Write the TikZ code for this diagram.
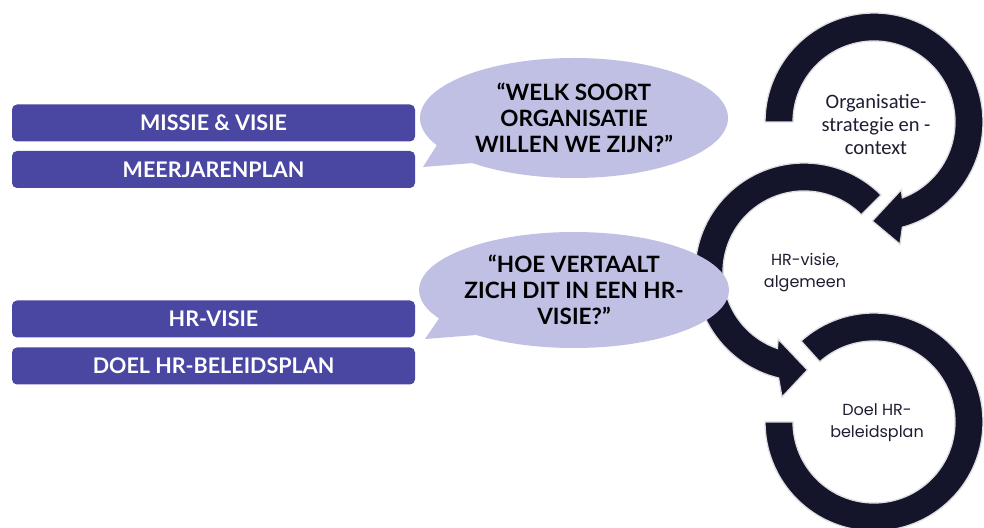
\documentclass[tikz,border=0pt]{standalone}
\usepackage{fontspec}
\setmainfont{Lato}
\newfontfamily\carl{Carlito}
\newfontfamily\popp{Poppins}
\usetikzlibrary{calc,shapes.geometric}
\definecolor{boxc}{RGB}{74,71,163}
\definecolor{bubc}{RGB}{192,192,228}
\definecolor{ringc}{RGB}{20,20,42}
\definecolor{ringedge}{RGB}{222,222,226}
\definecolor{ringtxt}{RGB}{30,30,50}
\tikzset{
  barbox/.style={fill=boxc, rounded corners=5pt, minimum width=403pt, minimum height=37pt, inner sep=0pt,
     text=white, font=\fontsize{21.5}{24}\selectfont\bfseries},
  bubble/.style={ellipse, fill=bubc, minimum width=308pt, inner sep=0pt, align=center,
     font=\fontsize{22.5}{26}\selectfont\bfseries, text=black},
  ring/.style={fill=ringc, draw=ringedge, line width=1.3pt, line join=miter},
  ringlabel/.style={align=center, text=ringtxt}
}
\begin{document}
\begin{tikzpicture}[x=1pt,y=1pt]
\useasboundingbox (0,0) rectangle (984,527);
\clip (0,0) rectangle (984,527);
\fill[white] (0,0) rectangle (984,527);
% ring centres
\coordinate (c1) at (874,405);
\coordinate (c2) at (804,255);
\coordinate (c3) at (874,105);
% ring 3
\path[ring] ($(c3)+(132:109)$) arc[start angle=132, end angle=-180, radius=109]
   -- ($(c3)+(-180:81)$) arc[start angle=-180, end angle=132, radius=81] -- cycle;
% ring 2
\path[ring] ($(c2)+(45:109)$) arc[start angle=45, end angle=256.5, radius=109]
   -- ($(c2)+(260:127)$) -- ($(c2)+(272:98)$) -- ($(c2)+(249:72)$)
   -- ($(c2)+(250.8:81)$) arc[start angle=250.8, end angle=45, radius=81] -- cycle;
% ring 1
\path[ring] ($(c1)+(180:109)$) arc[start angle=180, end angle=-74.9, radius=109]
   -- ($(c1)+(-78:125)$) -- ($(c1)+(-91:99)$) -- ($(c1)+(-68:73)$)
   -- ($(c1)+(-69.5:81)$) arc[start angle=-69.5, end angle=180, radius=81] -- cycle;
% ring labels
\node[ringlabel, font=\carl\fontsize{20.5}{23}\selectfont] (org) at (876,403) {Organisatie-\\strategie en -\\context};
\node[ringlabel, font=\popp\fontsize{16}{22}\selectfont] (hrv) at (805,254) {HR-visie,\\algemeen};
\node[ringlabel, font=\popp\fontsize{16}{22}\selectfont] (doel) at (877,104) {Doel HR-\\beleidsplan};
% boxes
\node[barbox] (b1) at (213.5,404) {MISSIE \& VISIE};
\node[barbox] (b2) at (213.5,357.5) {MEERJARENPLAN};
\node[barbox] (b3) at (213.5,208) {HR-VISIE};
\node[barbox] (b4) at (213.5,161) {DOEL HR-BELEIDSPLAN};
% bubbles
\fill[bubc] (437,382) -- (423,360) -- (473,364) -- cycle;
\node[bubble, minimum height=120pt] (q1) at (574,409) {“WELK SOORT\\ORGANISATIE\\WILLEN WE ZIJN?”};
\fill[bubc] (440,210) -- (425,188) -- (476,192) -- cycle;
\node[bubble, minimum height=116pt] (q2) at (574,237) {“HOE VERTAALT\\ZICH DIT IN EEN HR-\\VISIE?”};
\end{tikzpicture}
\end{document}
